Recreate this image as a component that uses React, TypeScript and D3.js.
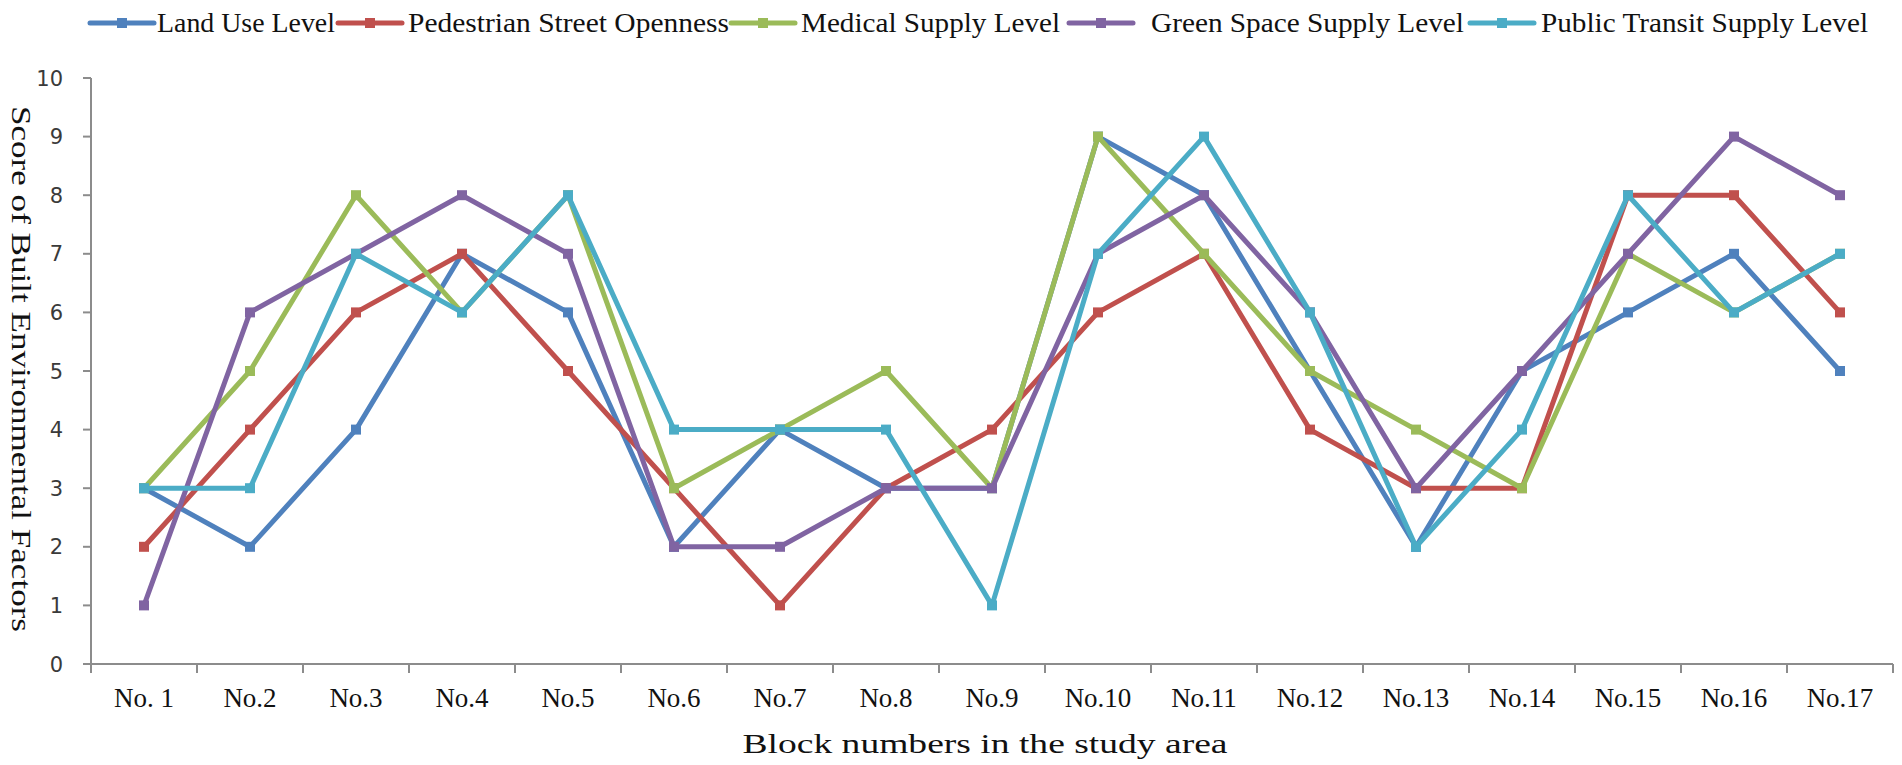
import React from "react";
import * as d3 from "d3";

const categories = [
  "No. 1", "No.2", "No.3", "No.4", "No.5", "No.6", "No.7", "No.8", "No.9",
  "No.10", "No.11", "No.12", "No.13", "No.14", "No.15", "No.16", "No.17",
];

const seriesNames = [
  "Land Use Level",
  "Pedestrian Street Openness",
  "Medical Supply Level",
  "Green Space Supply Level",
  "Public Transit Supply Level",
];

const landUse = [3, 2, 4, 7, 6, 2, 4, 3, 3, 9, 8, 5, 2, 5, 6, 7, 5];
const pedestrian = [2, 4, 6, 7, 5, 3, 1, 3, 4, 6, 7, 4, 3, 3, 8, 8, 6];
const medical = [3, 5, 8, 6, 8, 3, 4, 5, 3, 9, 7, 5, 4, 3, 7, 6, 7];
const greenSpace = [1, 6, 7, 8, 7, 2, 2, 3, 3, 7, 8, 6, 3, 5, 7, 9, 8];
const transit = [3, 3, 7, 6, 8, 4, 4, 4, 1, 7, 9, 6, 2, 4, 8, 6, 7];

const yTicks = [0, 1, 2, 3, 4, 5, 6, 7, 8, 9, 10];

const colors = ["#4F81BD", "#C0504D", "#9BBB59", "#8064A2", "#4BACC6"];

// legend layout: line start, text start, text length (px)
const legendLayout = [
  { line: 90, text: 157, len: 178 },
  { line: 338, text: 408, len: 321 },
  { line: 731, text: 801, len: 259 },
  { line: 1069, text: 1151, len: 313 },
  { line: 1470, text: 1541, len: 327 },
];

const W = 1902;
const H = 765;
const margin = { left: 91, right: 9, top: 78, bottom: 101 };

const serif = "'Liberation Serif', 'Times New Roman', serif";

export default function App() {
  const values = [landUse, pedestrian, medical, greenSpace, transit];

  const x = d3
    .scaleBand<string>()
    .domain(categories)
    .range([margin.left, W - margin.right]);
  const y = d3
    .scaleLinear()
    .domain([0, 10])
    .range([H - margin.bottom, margin.top]);

  const cx = (i: number) => (x(categories[i]) ?? 0) + x.bandwidth() / 2;

  const line = d3
    .line<number>()
    .x((_, i) => cx(i))
    .y((d) => y(d));

  const x0 = margin.left;
  const x1 = W - margin.right;
  const y0 = y(0);
  const axisColor = "#8c8c8c";

  const boundaries = categories.map((c) => x(c) ?? 0).concat([x1]);

  return (
    <div style={{ position: "absolute", left: 0, top: 0 }}>
      <svg width={W} height={H} style={{ display: "block", background: "#fff" }}>
        {/* y axis */}
        <line x1={x0} x2={x0} y1={y(10)} y2={y0 + 8} stroke={axisColor} strokeWidth={2} />
        {yTicks.map((t) => (
          <g key={`yt/${t}`}>
            <line x1={x0 - 8} x2={x0} y1={y(t)} y2={y(t)} stroke={axisColor} strokeWidth={2} />
            <text
              x={x0 - 28}
              y={y(t)}
              dy="0.36em"
              textAnchor="end"
              fontFamily="'DejaVu Sans', Verdana, sans-serif"
              fontSize={21}
              fill="#3a3a3a"
            >
              {t}
            </text>
          </g>
        ))}

        {/* x axis */}
        <line x1={x0 - 8} x2={x1} y1={y0} y2={y0} stroke={axisColor} strokeWidth={2} />
        {boundaries.map((b, i) => (
          <line key={`xt/${i}`} x1={b} x2={b} y1={y0} y2={y0 + 9} stroke={axisColor} strokeWidth={2} />
        ))}
        {categories.map((c, i) => (
          <text
            key={`xl/${c}`}
            x={cx(i)}
            y={707}
            textAnchor="middle"
            fontFamily={serif}
            fontSize={27}
            fill="#111"
          >
            {c}
          </text>
        ))}

        {/* axis titles */}
        <text
          x={985}
          y={753}
          textAnchor="middle"
          fontFamily={serif}
          fontSize={28}
          fill="#111"
          textLength={485}
          lengthAdjust="spacingAndGlyphs"
        >
          Block numbers in the study area
        </text>
        <text
          transform={`translate(12, ${(y(10) + y0) / 2 - 2}) rotate(90)`}
          textAnchor="middle"
          fontFamily={serif}
          fontSize={28}
          fill="#111"
          textLength={526}
          lengthAdjust="spacingAndGlyphs"
        >
          Score of Built Environmental Factors
        </text>

        {/* series */}
        {values.map((vals, s) => (
          <g key={`s/${s}`}>
            <path
              d={line(vals) ?? ""}
              fill="none"
              stroke={colors[s]}
              strokeWidth={5}
              strokeLinejoin="round"
            />
            {vals.map((v, i) => (
              <rect
                key={`m/${s}/${i}`}
                x={cx(i) - 5}
                y={y(v) - 5}
                width={10}
                height={10}
                fill={colors[s]}
              />
            ))}
          </g>
        ))}

        {/* legend */}
        {seriesNames.map((name, s) => {
          const l = legendLayout[s];
          const ly = 23;
          return (
            <g key={`lg/${s}`}>
              <line
                x1={l.line}
                x2={l.line + 64}
                y1={ly}
                y2={ly}
                stroke={colors[s]}
                strokeWidth={5}
                strokeLinecap="round"
              />
              <rect x={l.line + 27} y={ly - 5} width={10} height={10} fill={colors[s]} />
              <text
                x={l.text}
                y={32}
                fontFamily={serif}
                fontSize={28}
                fill="#111"
                textLength={l.len}
                lengthAdjust="spacingAndGlyphs"
              >
                {name}
              </text>
            </g>
          );
        })}
      </svg>
    </div>
  );
}
